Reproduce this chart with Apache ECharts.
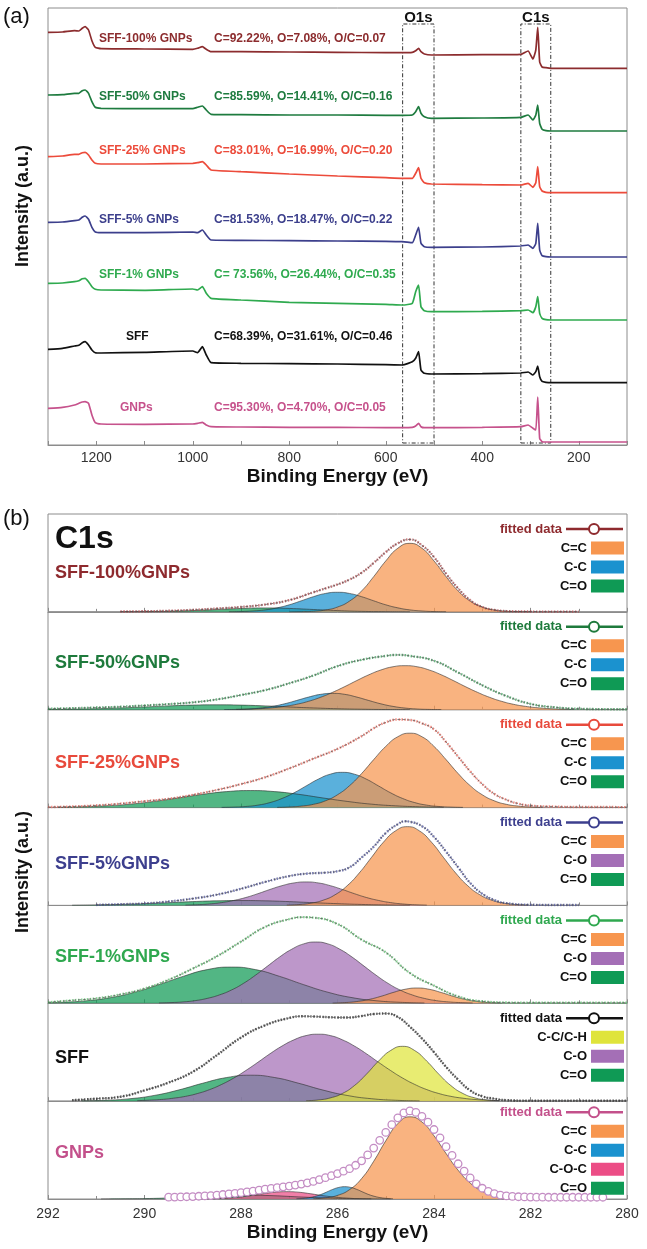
<!DOCTYPE html>
<html>
<head>
<meta charset="utf-8">
<title>XPS survey and C1s spectra</title>
<script src="https://cdn.jsdelivr.net/npm/echarts@6/dist/echarts.min.js"></script>
<style>
html, body { margin: 0; padding: 0; background: #fff; }
#chart { width: 647px; height: 1249px; }
</style>
</head>
<body>
<div id="chart"></div>
<script>
// ---------------- (a) XPS survey spectra ----------------
const surveyEnergy = [1300, 1270, 1245, 1236, 1229, 1223, 1216, 1209, 1202, 1190, 1100, 1000, 990, 980, 972, 962, 900, 800, 700, 600, 565, 545, 538, 532, 527, 520, 505, 400, 320, 305, 295, 289, 285, 281, 276, 268, 258, 200, 100];
const surveyTicks = [200, 400, 600, 800, 1000, 1200];

// intensities (a.u., stacked with vertical offsets)
const survey_SFF100 = [412.7, 413, 414.3, 414, 416.7, 418.3, 415, 404.3, 397.7, 396.3, 396, 395.7, 396.7, 398.3, 395.7, 393.3, 393.3, 393, 392.7, 392.3, 392.3, 392.7, 394.3, 396.7, 393.3, 391, 390, 390.3, 390.7, 394, 386, 395, 417.7, 383, 378, 377.3, 376.7, 376.7, 376.7];
const survey_SFF50 = [350, 350.3, 351.7, 351.7, 354.3, 355, 351.7, 343.3, 337.7, 336.7, 336.3, 336.3, 337.7, 339, 335, 330.7, 330.3, 330, 330, 329.7, 329.7, 330, 333.3, 338.3, 331.7, 328.3, 326.7, 327, 327.7, 330, 325, 330, 340, 321.7, 315.7, 314.3, 314, 314, 314];
const survey_SFF25 = [288.3, 289, 290.7, 290.7, 292.3, 292.7, 290, 285, 281.7, 281, 281, 281.7, 282.3, 283.3, 280, 275, 273.3, 271, 269, 267.3, 266.7, 266.7, 271.7, 277.3, 266.7, 262.3, 261, 260.3, 260, 261.7, 257.7, 262.3, 278.3, 258.3, 254, 252.7, 252.3, 252.3, 252.3];
const survey_SFF5 = [222.7, 223, 224.3, 225, 227.7, 229, 225.7, 217.7, 213, 212.3, 212.3, 213, 212.3, 215, 210, 205, 204.7, 204.3, 204, 203.7, 203.3, 202.3, 210, 217.7, 201.7, 198.3, 197.7, 198, 199, 200, 196.7, 201.7, 221.7, 195, 189.3, 188.3, 188, 188, 188];
const survey_SFF1 = [161.7, 162, 163.3, 164.3, 166.3, 166.7, 163.3, 158.3, 155.7, 155, 154.7, 156, 155, 158.3, 151.7, 146.7, 145, 142.7, 141.7, 140.7, 140, 141.7, 153.3, 160, 138.3, 134.3, 133.3, 133.7, 134.3, 135, 132.3, 138.3, 148.3, 131.7, 126.7, 125.3, 125, 125, 125];
const survey_SFF = [95.7, 96.7, 99, 99.7, 102.3, 103.3, 100, 95, 92.3, 92, 92.7, 94, 92.3, 98.3, 90, 82.3, 81.7, 81.3, 81, 80.3, 80, 83.3, 86.7, 93.3, 75, 71.7, 71, 71.3, 72, 73, 70, 73.3, 79, 68.3, 63.7, 62.7, 62.3, 62.3, 62.3];
const survey_GNPs = [36.7, 37.7, 40, 41.7, 43, 43.3, 41.7, 30, 22.3, 21, 20.7, 21, 21.7, 22.7, 20, 18.3, 18, 17.7, 17.7, 17.3, 17.3, 17.7, 19, 21.7, 18.3, 17.3, 17.3, 17.7, 18.3, 20, 16.7, 15, 48, 6.7, 3.3, 3, 3, 3, 3];

const surveySamples = ['SFF-100% GNPs', 'SFF-50% GNPs', 'SFF-25% GNPs', 'SFF-5% GNPs', 'SFF-1% GNPs', 'SFF', 'GNPs'];
const surveyComposition = [
  'C=92.22%, O=7.08%, O/C=0.07',
  'C=85.59%, O=14.41%, O/C=0.16',
  'C=83.01%, O=16.99%, O/C=0.20',
  'C=81.53%, O=18.47%, O/C=0.22',
  'C= 73.56%, O=26.44%, O/C=0.35',
  'C=68.39%, O=31.61%, O/C=0.46',
  'C=95.30%, O=4.70%, O/C=0.05'
];
const surveyCurves = [survey_SFF100, survey_SFF50, survey_SFF25, survey_SFF5, survey_SFF1, survey_SFF, survey_GNPs];

// ---------------- (b) C1s high-resolution spectra ----------------
const c1sTicks = [292, 290, 288, 286, 284, 282, 280];

// SFF-100%GNPs
const fit_SFF100 = [[290.5,0.3],[290,0.6],[289.5,1.1],[289,2],[288.5,3.4],[288,5],[287.5,7.5],[287,12],[286.5,20],[286.25,24],[286,28],[285.75,33],[285.5,40],[285.25,50],[285,61],[284.75,70],[284.5,74],[284.25,68],[284,56],[283.75,39],[283.5,24],[283.25,12],[283,5],[282.75,2],[282.5,0.8],[282,0.3],[281.5,0.2],[281,0.2]];
const cc_SFF100 = [[287,0],[286.75,0.2],[286.5,0.6],[286.25,1.9],[286,4.9],[285.75,11],[285.5,21.4],[285.25,36],[285,52],[284.75,65],[284.5,70],[284.25,65],[284,52],[283.75,36],[283.5,21.4],[283.25,11],[283,4.9],[282.75,1.9],[282.5,0.6],[282.25,0.2],[282,0]];
const csc_SFF100 = [[288.25,0.1],[288,0.3],[287.75,0.9],[287.5,2],[287.25,4.1],[287,7.2],[286.75,11.3],[286.5,15.5],[286.25,18.8],[286,20],[285.75,18.8],[285.5,15.5],[285.25,11.3],[285,7.2],[284.75,4.1],[284.5,2],[284.25,0.9],[284,0.3],[283.75,0.1]];
const cdo_SFF100 = [[290.5,0],[290,0.2],[289.5,0.5],[289,1.3],[288.5,2.4],[288,3.5],[287.5,4],[287,3.5],[286.5,2.4],[286,1.3],[285.5,0.5],[285,0.2],[284.5,0]];

// SFF-50%GNPs
const fit_SFF50 = [[292,1],[291.5,1.5],[291,2.2],[290.5,3],[290,4.3],[289.5,5.7],[289,7.5],[288.5,10.5],[288,15],[287.5,20],[287,27],[286.5,35],[286,44.5],[285.5,51],[285,55],[284.75,56],[284.5,55],[284,50],[283.5,38],[283,25],[282.5,14],[282,6],[281.5,2.5],[281,1],[280.5,0.6],[280,0.5]];
const cc_SFF50 = [[288.1,0.3],[287.85,0.6],[287.6,1.1],[287.35,2],[287.1,3.4],[286.85,5.5],[286.6,8.6],[286.35,12.7],[286.1,17.8],[285.85,23.6],[285.6,29.8],[285.35,35.7],[285.1,40.6],[284.85,43.9],[284.6,45],[284.35,43.9],[284.1,40.6],[283.85,35.7],[283.6,29.8],[283.35,23.6],[283.1,17.8],[282.85,12.7],[282.6,8.6],[282.35,5.5],[282.1,3.4],[281.85,2],[281.6,1.1],[281.35,0.6],[281.1,0.3]];
const csc_SFF50 = [[288.35,0.1],[288.1,0.3],[287.85,0.7],[287.6,1.7],[287.35,3.4],[287.1,6],[286.85,9.4],[286.6,12.9],[286.35,15.7],[286.1,16.7],[285.85,15.7],[285.6,12.9],[285.35,9.4],[285.1,6],[284.85,3.4],[284.6,1.7],[284.35,0.7],[284.1,0.3],[283.85,0.1]];
const cdo_SFF50 = [[292,0.2],[291.5,0.5],[291,1],[290.5,1.8],[290,2.8],[289.5,3.9],[289,4.7],[288.5,5],[288,4.7],[287.5,3.9],[287,2.8],[286.5,1.8],[286,1],[285.5,0.5],[285,0.2],[284.5,0.1]];

// SFF-25%GNPs
const fit_SFF25 = [[292,0.5],[291.5,1.1],[291,2.2],[290.5,4],[290,6.5],[289.5,9],[289,13],[288.5,18],[288,24],[287.5,31],[287,40],[286.5,50],[286,60],[285.5,73],[285.25,81],[285,87],[284.75,90],[284.5,89.5],[284.25,86],[284,80],[283.75,67],[283.5,52],[283.25,37],[283,24],[282.75,14],[282.5,8],[282.25,4],[282,2],[281.5,1],[281,0.6],[280,0.5]];
const cc_SFF25 = [[287.25,0.2],[287,0.6],[286.75,1.5],[286.5,3.3],[286.25,6.9],[286,13.1],[285.75,22.4],[285.5,34.8],[285.25,49],[285,62.5],[284.75,72.4],[284.5,76],[284.25,72.4],[284,62.5],[283.75,49],[283.5,34.8],[283.25,22.4],[283,13.1],[282.75,6.9],[282.5,3.3],[282.25,1.5],[282,0.6],[281.75,0.2]];
const csc_SFF25 = [[288.4,0.2],[288.15,0.5],[287.9,1.1],[287.65,2.5],[287.4,5.1],[287.15,9.3],[286.9,15.1],[286.65,22.1],[286.4,29],[286.15,34.1],[285.9,36],[285.65,34.1],[285.4,29],[285.15,22.1],[284.9,15.1],[284.65,9.3],[284.4,5.1],[284.15,2.5],[283.9,1.1],[283.65,0.5],[283.4,0.2]];
const cdo_SFF25 = [[291.8,0.3],[291.3,0.8],[290.8,1.8],[290.3,3.5],[289.8,6.3],[289.3,9.8],[288.8,13.5],[288.3,16.3],[287.8,17.4],[287.3,16.3],[286.8,13.5],[286.3,9.8],[285.8,6.3],[285.3,3.5],[284.8,1.8],[284.3,0.8],[283.8,0.3]];

// SFF-5%GNPs
const fit_SFF5 = [[291,0.5],[290.5,1.2],[290,2],[289.5,4],[289,7],[288.5,11],[288,17],[287.5,24],[287,30],[286.64,32.5],[286.25,33.5],[286,35],[285.75,39],[285.5,49],[285.25,60],[285,74],[284.75,83],[284.6,86],[284.5,85.5],[284.25,81],[284,70],[283.75,55],[283.5,39],[283.25,23],[283,12],[282.75,5.5],[282.5,2.3],[282,0.7],[281.5,0.5],[281,0.5]];
const cc_SFF5 = [[287.05,0.3],[286.8,0.9],[286.55,2.3],[286.3,5.3],[286.05,10.9],[285.8,20.1],[285.55,33.1],[285.3,48.8],[285.05,64.5],[284.8,76.1],[284.55,80.5],[284.3,76.1],[284.05,64.5],[283.8,48.8],[283.55,33.1],[283.3,20.1],[283.05,10.9],[282.8,5.3],[282.55,2.3],[282.3,0.9],[282.05,0.3]];
const co_SFF5 = [[289.15,0.3],[288.9,0.7],[288.65,1.5],[288.4,2.9],[288.15,5.1],[287.9,8.1],[287.65,12],[287.4,16.3],[287.15,20.2],[286.9,23],[286.65,24],[286.4,23],[286.15,20.2],[285.9,16.3],[285.65,12],[285.4,8.1],[285.15,5.1],[284.9,2.9],[284.65,1.5],[284.4,0.7],[284.15,0.3]];
const cdo_SFF5 = [[291.5,0.2],[291,0.5],[290.5,1],[290,1.8],[289.5,2.8],[289,3.9],[288.5,4.7],[288,5],[287.5,4.7],[287,3.9],[286.5,2.8],[286,1.8],[285.5,1],[285,0.5],[284.5,0.2]];

// SFF-1%GNPs
const fit_SFF1 = [[292,1],[291.5,3],[291,5],[290.5,9],[290,15],[289.5,24],[289,35.5],[288.5,48],[288,63],[287.5,78],[287,86],[286.72,88],[286.5,87.5],[286,81],[285.5,65],[285,52],[284.5,31],[284,18],[283.5,7],[283,2],[282.5,0.8],[282,0.5],[281,0.5],[280,0.5]];
const cc_SFF1 = [[286.1,0.2],[285.85,0.7],[285.6,1.8],[285.35,3.9],[285.1,7.1],[284.85,11],[284.6,14.3],[284.35,15.6],[284.1,14.3],[283.85,11],[283.6,7.1],[283.35,3.9],[283.1,1.8],[282.85,0.7],[282.6,0.2]];
const co_SFF1 = [[289.7,0.3],[289.45,0.7],[289.2,1.4],[288.95,2.7],[288.7,5],[288.45,8.5],[288.2,13.5],[287.95,20.3],[287.7,28.7],[287.45,38],[287.2,47.3],[286.95,55.2],[286.7,60.7],[286.45,62.6],[286.2,60.7],[285.95,55.2],[285.7,47.3],[285.45,38],[285.2,28.7],[284.95,20.3],[284.7,13.5],[284.45,8.5],[284.2,5],[283.95,2.7],[283.7,1.4],[283.45,0.7],[283.2,0.3]];
const cdo_SFF1 = [[292,0.5],[291.7,1],[291.2,2.6],[290.7,5.8],[290.2,11.3],[289.7,19],[289.2,27.5],[288.7,34.4],[288.2,37],[287.7,34.4],[287.2,27.5],[286.7,19],[286.2,11.3],[285.7,5.8],[285.2,2.6],[284.7,1],[284.2,0.3]];

// SFF
const fit_SFF = [[291.5,1],[291,2.5],[290.5,4.5],[290,11],[289.5,19],[289,30],[288.5,47],[288,65],[287.5,77.5],[287,85],[286.72,86.7],[286.5,86.5],[286,85.5],[285.79,85.4],[285.5,87],[285.25,89],[285,89.5],[284.75,86],[284.5,76],[284.25,64],[284,50],[283.75,35],[283.5,22],[283.25,11],[283,5],[282.75,2.5],[282.5,1],[282,0.5],[281,0.5],[280,0.5]];
const ch_SFF = [[286.65,0.4],[286.4,1.2],[286.15,3.3],[285.9,7.8],[285.65,15.9],[285.4,27.6],[285.15,40.9],[284.9,51.7],[284.65,56],[284.4,51.7],[284.15,40.9],[283.9,27.6],[283.65,15.9],[283.4,7.8],[283.15,3.3],[282.9,1.2],[282.65,0.4]];
const co_SFF = [[290.15,0.5],[289.9,1],[289.65,1.7],[289.4,3],[289.15,4.9],[288.9,7.8],[288.65,11.8],[288.4,17.1],[288.15,23.6],[287.9,31.3],[287.65,39.7],[287.4,48.4],[287.15,56.3],[286.9,62.7],[286.65,67],[286.4,68.4],[286.15,67],[285.9,62.7],[285.65,56.3],[285.4,48.4],[285.15,39.7],[284.9,31.3],[284.65,23.6],[284.4,17.1],[284.15,11.8],[283.9,7.8],[283.65,4.9],[283.4,3],[283.15,1.7],[282.9,1],[282.65,0.5]];
const cdo_SFF = [[291.3,0.3],[290.8,0.9],[290.3,2.5],[289.8,5.8],[289.3,11.3],[288.8,18.2],[288.3,24.1],[287.8,26.5],[287.3,24.1],[286.8,18.2],[286.3,11.3],[285.8,5.8],[285.3,2.5],[284.8,0.9],[284.3,0.3]];

// GNPs
const fit_GNPs = [[289.5,1.9],[289.375,2],[289.25,2.1],[289.125,2.3],[289,2.5],[288.875,2.8],[288.75,3.1],[288.625,3.5],[288.5,4],[288.375,4.6],[288.25,5.2],[288.125,5.8],[288,6.5],[287.875,7.2],[287.75,8],[287.625,9],[287.5,10],[287.375,10.8],[287.25,11.6],[287.125,12.4],[287,13.2],[286.875,14.2],[286.75,15.3],[286.625,16.5],[286.5,18],[286.375,19.8],[286.25,21.8],[286.125,23.8],[286,26],[285.875,28.4],[285.75,31],[285.625,34.5],[285.5,39],[285.375,45],[285.25,52],[285.125,60],[285,68],[284.875,76],[284.75,83],[284.625,88],[284.5,90],[284.375,88.5],[284.25,84.5],[284.125,78.5],[284,71],[283.875,62.5],[283.75,53.5],[283.625,44.5],[283.5,36],[283.375,28.5],[283.25,21.5],[283.125,15.5],[283,11],[282.875,7.8],[282.75,5.5],[282.625,4],[282.5,3.1],[282.375,2.6],[282.25,2.3],[282.125,2.1],[282,2],[281.875,1.9],[281.75,1.9],[281.625,1.8],[281.5,1.8],[281.375,1.8],[281.25,1.8],[281.125,1.8],[281,1.8],[280.875,1.8],[280.75,1.8],[280.625,1.8],[280.5,1.8]];
const cc_GNPs = [[286.5,0.3],[286.25,1.2],[286,3.7],[285.75,9.6],[285.5,20.9],[285.25,38.5],[285,59.4],[284.75,77],[284.5,84],[284.25,78.7],[284,64.6],[283.75,46.5],[283.5,29.4],[283.25,16.3],[283,7.9],[282.75,3.4],[282.5,1.3],[282.25,0.4]];
const csc_GNPs = [[286.85,0.2],[286.725,0.6],[286.6,1.3],[286.475,2.6],[286.35,4.5],[286.225,7.1],[286.1,9.8],[285.975,11.8],[285.85,12.6],[285.725,11.8],[285.6,9.8],[285.475,7.1],[285.35,4.5],[285.225,2.6],[285.1,1.3],[284.975,0.6],[284.85,0.2]];
const coc_GNPs = [[288.8,0.1],[288.55,0.3],[288.3,0.9],[288.05,1.9],[287.8,3.4],[287.55,5.3],[287.3,6.9],[287.05,7.5],[286.8,6.9],[286.55,5.3],[286.3,3.4],[286.05,1.9],[285.8,0.9],[285.55,0.3],[285.3,0.1]];
const cdo_GNPs = [[290.9,0],[290.4,0.2],[289.9,0.5],[289.4,1.3],[288.9,2.4],[288.4,3.5],[287.9,4],[287.4,3.5],[286.9,2.4],[286.4,1.3],[285.9,0.5],[285.4,0.2],[284.9,0]];

// ---------------- styling ----------------
const FONT = '"Liberation Sans", Arial, Helvetica, sans-serif';
const FRAME = '#8c8c8c';
const surveyColors = ['#8c2c2e', '#1e7b3f', '#ec4b3b', '#3c3f8c', '#2faa4f', '#111111', '#c6528c'];
const surveyLabelX = [99, 99, 99, 99, 99, 126, 120];
const surveyLabelY = [39, 97, 151, 220, 275, 337, 408];

const COL_CdC = '#f7964f';
const COL_CC = '#1b92cf';
const COL_CdO = '#0f9a55';
const COL_CO = '#a46fb6';
const COL_COC = '#ec4d86';
const COL_CH = '#dfe43c';

const c1sPanels = [
  { label: 'SFF-100%GNPs', labelColor: '#8e2a2e', fitColor: '#b0474b', labelDy: 59, fit: fit_SFF100,
    parts: [['C=C', COL_CdC, cc_SFF100], ['C-C', COL_CC, csc_SFF100], ['C=O', COL_CdO, cdo_SFF100]] },
  { label: 'SFF-50%GNPs', labelColor: '#1e7a3c', fitColor: '#3a9c58', labelDy: 51, fit: fit_SFF50,
    parts: [['C=C', COL_CdC, cc_SFF50], ['C-C', COL_CC, csc_SFF50], ['C=O', COL_CdO, cdo_SFF50]] },
  { label: 'SFF-25%GNPs', labelColor: '#e84a3c', fitColor: '#ef6e62', labelDy: 53, fit: fit_SFF25,
    parts: [['C=C', COL_CdC, cc_SFF25], ['C-C', COL_CC, csc_SFF25], ['C=O', COL_CdO, cdo_SFF25]] },
  { label: 'SFF-5%GNPs', labelColor: '#3d3f8e', fitColor: '#4a4f98', labelDy: 56, fit: fit_SFF5,
    parts: [['C=C', COL_CdC, cc_SFF5], ['C-O', COL_CO, co_SFF5], ['C=O', COL_CdO, cdo_SFF5]] },
  { label: 'SFF-1%GNPs', labelColor: '#2fa84f', fitColor: '#5cc06e', labelDy: 52, fit: fit_SFF1,
    parts: [['C=C', COL_CdC, cc_SFF1], ['C-O', COL_CO, co_SFF1], ['C=O', COL_CdO, cdo_SFF1]] },
  { label: 'SFF', labelColor: '#111111', fitColor: '#222222', labelDy: 55, fit: fit_SFF,
    parts: [['C-C/C-H', COL_CH, ch_SFF], ['C-O', COL_CO, co_SFF], ['C=O', COL_CdO, cdo_SFF]] },
  { label: 'GNPs', labelColor: '#c3508b', fitColor: '#c48dc4', labelDy: 52, fit: fit_GNPs, circles: true,
    parts: [['C=C', COL_CdC, cc_GNPs], ['C-C', COL_CC, csc_GNPs], ['C-O-C', COL_COC, coc_GNPs], ['C=O', COL_CdO, cdo_GNPs]] }
];

// ---------------- layout ----------------
const PLOT_LEFT = 48, PLOT_RIGHT = 627;
const A_TOP = 8, A_BOTTOM = 445;
const B_TOP = 514, B_BOTTOM = 1199;
const B_ROW = (B_BOTTOM - B_TOP) / c1sPanels.length;

const grids = [], xAxes = [], yAxes = [], series = [], elements = [];

function txt(x, y, str, font, fill, align, rotation) {
  elements.push({
    type: 'text', x: x, y: y, rotation: rotation || 0, z: 60,
    style: { text: str, font: font, fill: fill, align: align || 'left', verticalAlign: 'middle' }
  });
}

// panel (a)
grids.push({ left: PLOT_LEFT, width: PLOT_RIGHT - PLOT_LEFT, top: A_TOP, height: A_BOTTOM - A_TOP,
  show: true, borderColor: FRAME, borderWidth: 1, backgroundColor: 'transparent' });
xAxes.push({
  gridIndex: 0, type: 'value', min: 100, max: 1300, interval: 100, inverse: true,
  axisLine: { show: true, lineStyle: { color: FRAME } },
  axisTick: { show: true, inside: true, length: 4, lineStyle: { color: FRAME } },
  axisLabel: { margin: 6, fontSize: 14, color: '#333', fontFamily: FONT,
    formatter: v => surveyTicks.includes(v) ? String(v) : '' },
  splitLine: { show: false }
});
yAxes.push({ gridIndex: 0, type: 'value', min: 0, max: A_BOTTOM - A_TOP, show: false });

surveyCurves.forEach((curve, i) => {
  const s = {
    type: 'line', name: surveySamples[i], xAxisIndex: 0, yAxisIndex: 0,
    data: surveyEnergy.map((e, k) => [e, curve[k]]),
    symbol: 'none', smooth: 0.15,
    lineStyle: { color: surveyColors[i], width: 1.7 },
    z: 3
  };
  if (i === 0) {
    s.markArea = {
      silent: true,
      itemStyle: { color: 'rgba(0,0,0,0)', borderColor: '#333', borderWidth: 1, borderType: [4, 2, 1, 2] },
      label: { show: true, position: 'top', distance: -2, color: '#111', fontWeight: 'bold', fontSize: 15, fontFamily: FONT },
      data: [
        [{ name: 'O1s', xAxis: 565, yAxis: 2 }, { xAxis: 500, yAxis: 421 }],
        [{ name: 'C1s', xAxis: 320, yAxis: 2 }, { xAxis: 258, yAxis: 421 }]
      ]
    };
  }
  series.push(s);
  txt(surveyLabelX[i], surveyLabelY[i], surveySamples[i], 'bold 12px ' + FONT, surveyColors[i]);
  txt(214, surveyLabelY[i], surveyComposition[i], 'bold 12px ' + FONT, surveyColors[i]);
});

// panel (b)
c1sPanels.forEach((p, i) => {
  const gi = i + 1;
  const top = B_TOP + i * B_ROW;
  const last = i === c1sPanels.length - 1;
  grids.push({ left: PLOT_LEFT, width: PLOT_RIGHT - PLOT_LEFT, top: top, height: B_ROW,
    show: true, borderColor: FRAME, borderWidth: 1, backgroundColor: 'transparent' });
  xAxes.push({
    gridIndex: gi, type: 'value', min: 280, max: 292, interval: 2, inverse: true,
    axisLine: { show: true, lineStyle: { color: FRAME } },
    axisTick: { show: true, inside: true, length: 4, lineStyle: { color: FRAME } },
    minorTick: { show: true, splitNumber: 2, length: 3, lineStyle: { color: FRAME } },
    axisLabel: { show: last, margin: 8, fontSize: 14, color: '#333', fontFamily: FONT,
      formatter: v => c1sTicks.includes(v) ? String(v) : '' },
    splitLine: { show: false }
  });
  yAxes.push({ gridIndex: gi, type: 'value', min: 0, max: 100, show: false });

  // fitted components, back to front
  p.parts.slice().reverse().forEach(([name, color, pts]) => {
    series.push({
      type: 'line', name: name, xAxisIndex: gi, yAxisIndex: gi, data: pts,
      symbol: 'none', smooth: true,
      lineStyle: { color: 'rgba(45,45,45,0.75)', width: 0.8 },
      areaStyle: { color: color, opacity: 0.72 },
      z: 2
    });
  });

  // fitted data envelope
  if (p.circles) {
    series.push({
      type: 'line', name: 'fitted data', xAxisIndex: gi, yAxisIndex: gi, data: p.fit,
      symbol: 'circle', symbolSize: 7.5, showAllSymbol: true,
      itemStyle: { color: '#ffffff', borderColor: p.fitColor, borderWidth: 1.3 },
      lineStyle: { width: 0 }, z: 4
    });
  } else {
    series.push({
      type: 'line', name: 'fitted data', xAxisIndex: gi, yAxisIndex: gi, data: p.fit,
      symbol: 'none', smooth: true,
      lineStyle: { color: p.fitColor, width: 2.4, type: [1.5, 1.5], opacity: 0.75 }, z: 4
    });
    series.push({
      type: 'line', name: 'fitted data', xAxisIndex: gi, yAxisIndex: gi, data: p.fit,
      symbol: 'none', smooth: true,
      lineStyle: { color: '#444', width: 0.8, type: [3, 2], opacity: 0.8 }, z: 5
    });
  }

  // sample name
  txt(55, top + p.labelDy, p.label, 'bold 18px ' + FONT, p.labelColor);

  // legend
  const n = p.parts.length;
  const y0 = top + (n === 4 ? 11 : 15);
  const step = 19;
  txt(562, y0, 'fitted data', 'bold 13px ' + FONT, p.labelColor, 'right');
  elements.push({ type: 'line', z: 60, shape: { x1: 566, y1: y0, x2: 623, y2: y0 },
    style: { stroke: p.labelColor, lineWidth: 2.5 } });
  elements.push({ type: 'circle', z: 61, shape: { cx: 594, cy: y0, r: 5 },
    style: { fill: '#fff', stroke: p.labelColor, lineWidth: 2 } });
  p.parts.forEach(([name, color], k) => {
    const yy = y0 + step * (k + 1);
    txt(587, yy, name, 'bold 13px ' + FONT, '#111', 'right');
    elements.push({ type: 'rect', z: 60, shape: { x: 591, y: yy - 6.5, width: 33, height: 13 },
      style: { fill: color } });
  });
});

// titles
txt(3, 17, '(a)', '22px ' + FONT, '#111');
txt(3, 519, '(b)', '22px ' + FONT, '#111');
txt(55, 539, 'C1s', 'bold 32px ' + FONT, '#111');
txt((PLOT_LEFT + PLOT_RIGHT) / 2, 477, 'Binding Energy (eV)', 'bold 19px ' + FONT, '#111', 'center');
txt((PLOT_LEFT + PLOT_RIGHT) / 2, 1233, 'Binding Energy (eV)', 'bold 19px ' + FONT, '#111', 'center');
txt(23, 206, 'Intensity (a.u.)', 'bold 18px ' + FONT, '#111', 'center', Math.PI / 2);
txt(23, 872, 'Intensity (a.u.)', 'bold 18px ' + FONT, '#111', 'center', Math.PI / 2);

const chart = echarts.init(document.getElementById('chart'), null, { renderer: 'canvas' });
chart.setOption({
  animation: false,
  backgroundColor: '#ffffff',
  grid: grids,
  xAxis: xAxes,
  yAxis: yAxes,
  series: series,
  graphic: { elements: elements }
});
</script>
</body>
</html>
